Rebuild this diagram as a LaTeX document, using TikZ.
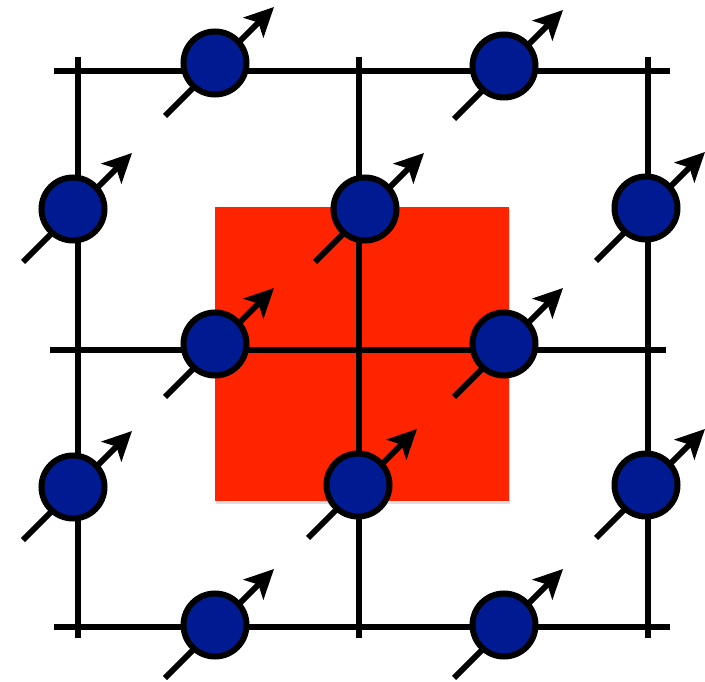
\documentclass[tikz,border=0pt]{standalone}
\usepackage{tikz}
\usetikzlibrary{arrows.meta, calc, backgrounds, shadows}
\usepackage{xcolor}
\definecolor{SpinBlue}{RGB}{0, 27, 146}
\definecolor{PatchRed}{RGB}{255, 36, 0}
\tikzset{
  spin/.style={circle, draw=black, fill=SpinBlue, line width=6pt,
               minimum size=63pt, inner sep=0pt,
               drop shadow={shadow xshift=1pt, shadow yshift=-2pt, opacity=0.2}},
  bond/.style={line width=6pt, color=black},
  spinarr/.style={-{Stealth[length=29pt, width=28pt, inset=7pt]}, line width=6pt, color=black},
  patch/.style={fill=PatchRed, draw=none,
                drop shadow={shadow xshift=1pt, shadow yshift=-3pt, opacity=0.25}},
}

\begin{document}
\begin{tikzpicture}[x=1pt, y=-1pt]
  \useasboundingbox (0,0) rectangle (705,682);

  % spins on the bonds
  \node[spin] (s1)  at (215,63)  {};
  \node[spin] (s2)  at (504,66)  {};
  \node[spin] (s3)  at (73,209)  {};
  \node[spin] (s4)  at (365,209) {};
  \node[spin] (s5)  at (646,208) {};
  \node[spin] (s6)  at (215,344) {};
  \node[spin] (s7)  at (504,344) {};
  \node[spin] (s8)  at (73,487)  {};
  \node[spin] (s9)  at (358,485) {};
  \node[spin] (s10) at (646,485) {};
  \node[spin] (s11) at (215,625) {};
  \node[spin] (s12) at (504,625) {};

  % lattice ends
  \coordinate (h1a) at (54,71);  \coordinate (h1b) at (670,71);
  \coordinate (h2a) at (50,350); \coordinate (h2b) at (666,350);
  \coordinate (h3a) at (54,627); \coordinate (h3b) at (670,627);
  \coordinate (v1a) at (78,57);  \coordinate (v1b) at (78,638);
  \coordinate (v2a) at (359,57); \coordinate (v2b) at (359,638);
  \coordinate (v3a) at (648,57); \coordinate (v3b) at (648,638);

  \begin{scope}[on background layer]
    \path[patch] (215,207) rectangle (509,501);

    \draw[bond] (h1a) -- (h1b);
    \draw[bond] (h2a) -- (h2b);
    \draw[bond] (h3a) -- (h3b);
    \draw[bond] (v1a) -- (v1b);
    \draw[bond] (v2a) -- (v2b);
    \draw[bond] (v3a) -- (v3b);

    % spin arrows
    \draw[spinarr] ($(s1)+(-50,53)$)  -- ($(s1)+(59,-56)$);
    \draw[spinarr] ($(s2)+(-50,53)$)  -- ($(s2)+(59,-56)$);
    \draw[spinarr] ($(s3)+(-50,53)$)  -- ($(s3)+(59,-56)$);
    \draw[spinarr] ($(s4)+(-50,53)$)  -- ($(s4)+(59,-56)$);
    \draw[spinarr] ($(s5)+(-50,53)$)  -- ($(s5)+(59,-56)$);
    \draw[spinarr] ($(s6)+(-50,53)$)  -- ($(s6)+(59,-56)$);
    \draw[spinarr] ($(s7)+(-50,53)$)  -- ($(s7)+(59,-56)$);
    \draw[spinarr] ($(s8)+(-50,53)$)  -- ($(s8)+(59,-56)$);
    \draw[spinarr] ($(s9)+(-50,53)$)  -- ($(s9)+(59,-56)$);
    \draw[spinarr] ($(s10)+(-50,53)$) -- ($(s10)+(59,-56)$);
    \draw[spinarr] ($(s11)+(-50,53)$) -- ($(s11)+(59,-56)$);
    \draw[spinarr] ($(s12)+(-50,53)$) -- ($(s12)+(59,-56)$);
  \end{scope}
\end{tikzpicture}
\end{document}
